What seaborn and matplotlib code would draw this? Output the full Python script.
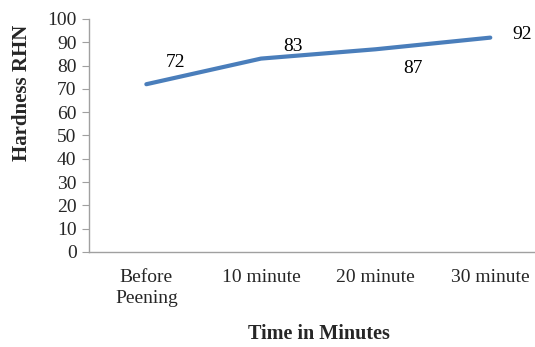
import seaborn as sns
import matplotlib.pyplot as plt
import pandas as pd

# data
stages = ["Before\nPeening", "10 minute", "20 minute", "30 minute"]
hardness = [72, 83, 87, 92]
# label offsets (points) relative to each point, as placed in the original
label_dx = [21, 23, 27, 23]
label_dy = [16, 9, -14, 2]

df = pd.DataFrame({"Stage": stages, "Hardness": hardness})

sns.set_style("white")
plt.rcParams['font.family'] = ['Liberation Serif', 'DejaVu Serif']

fig = plt.figure(figsize=(5.35, 3.47), dpi=100)
ax = fig.add_axes([0.1664, 0.2738, 0.8336, 0.6715])

sns.lineplot(x="Stage", y="Hardness", data=df, ax=ax,
             color="#4A7EBB", linewidth=3, sort=False)

for i, v in enumerate(hardness):
    ax.annotate(str(v), (i, v), xytext=(label_dx[i], label_dy[i]),
                textcoords="offset points", ha="center", va="center",
                fontsize=14, color="black")

ax.set_xlim(-0.5, 3.39)
ax.set_ylim(0, 100)
ax.set_yticks(range(0, 101, 10))
ax.set_xticks(range(len(stages)))
ax.set_xticklabels(stages, fontsize=14, linespacing=1.3)
ax.tick_params(axis="y", labelsize=14, length=5, color="#A0A0A0", left=True, pad=4)
ax.tick_params(axis="x", length=0, pad=12)

for s in ["top", "right"]:
    ax.spines[s].set_visible(False)
for s in ["left", "bottom"]:
    ax.spines[s].set_color("#A0A0A0")
    ax.spines[s].set_linewidth(1)

ax.set_ylabel("Hardness RHN", fontsize=15, fontweight="bold")
ax.set_xlabel("Time in Minutes", fontsize=14.5, fontweight="bold")
ax.yaxis.set_label_coords(-0.128, 0.682)
ax.xaxis.set_label_coords(0.516, -0.31)

fig.savefig("out.png", dpi=100)
